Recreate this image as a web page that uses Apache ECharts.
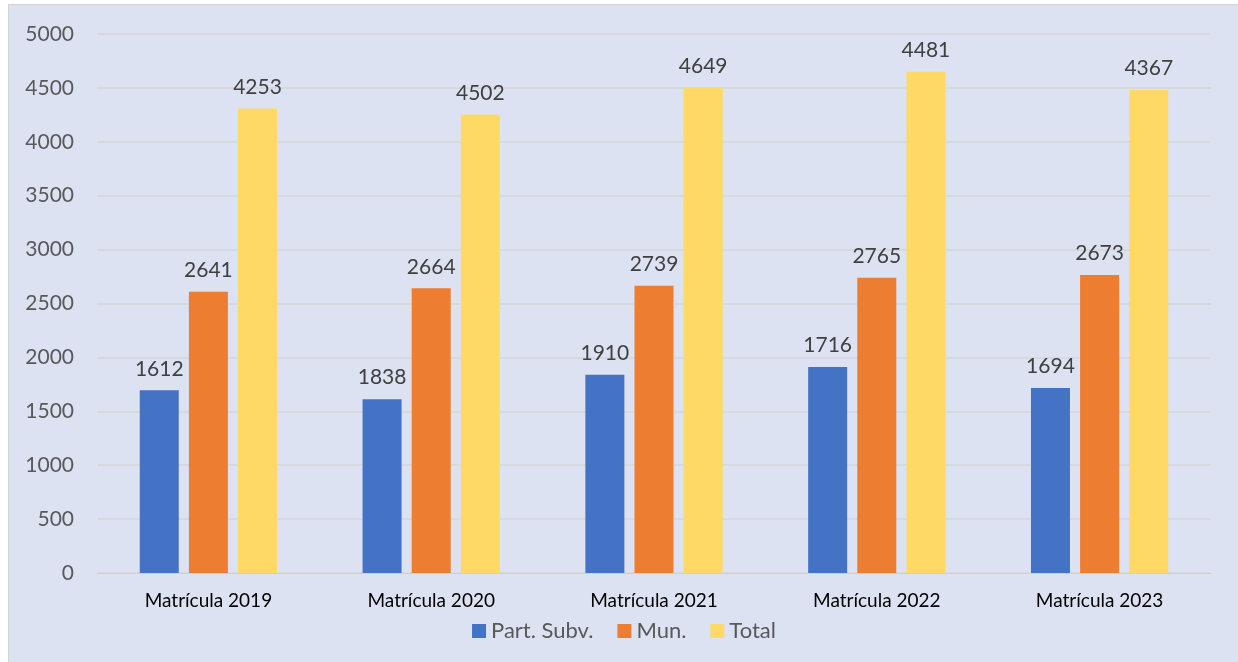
<!DOCTYPE html>
<html>
<head>
<meta charset="utf-8">
<script src="https://cdn.jsdelivr.net/npm/echarts@6/dist/echarts.min.js"></script>
<style>
  html, body { margin: 0; padding: 0; background: #ffffff; overflow: hidden; }
  #chart {
    position: absolute; left: 8px; top: 4px;
    width: 1232px; height: 660px;
    box-sizing: border-box;
    background: #dce2f2;
    border: 1px solid #d4d4d4;
  }
</style>
</head>
<body>
<div id="chart"></div>
<script>
// categorias
const categories = ['Matrícula 2019', 'Matrícula 2020', 'Matrícula 2021', 'Matrícula 2022', 'Matrícula 2023']
const seriesNames = ['Part. Subv.', 'Mun.', 'Total']

// altura de las barras
const partSubvBars = [1695, 1612, 1838, 1910, 1716]
const munBars = [2610, 2641, 2664, 2739, 2765]
const totalBars = [4310, 4253, 4502, 4649, 4481]

// etiquetas que muestra el gráfico
const partSubvLabels = [1612, 1838, 1910, 1716, 1694]
const munLabels = [2641, 2664, 2739, 2765, 2673]
const totalLabels = [4253, 4502, 4649, 4481, 4367]

const colors = ['#4472c4', '#ed7d31', '#ffd966']
const fontFamily = 'Lato, "Open Sans", sans-serif'

const makeSeries = (name, data, labels, color) => ({
  name,
  type: 'bar',
  data,
  barWidth: 39,
  barGap: '26%',
  itemStyle: { color },
  label: {
    show: true,
    position: 'top',
    distance: 11,
    color: '#404040',
    fontSize: 21,
    fontFamily,
    formatter: p => labels[p.dataIndex]
  }
})

const chart = echarts.init(document.getElementById('chart'))
chart.setOption({
  animation: false,
  color: colors,
  textStyle: { fontFamily },
  grid: { left: 88, right: 28, top: 29, bottom: 90, containLabel: false },
  legend: {
    data: seriesNames,
    left: 'center',
    top: 610,
    icon: 'rect',
    itemWidth: 14,
    itemHeight: 14,
    itemGap: 24,
    textStyle: { color: '#595959', fontSize: 22, fontFamily }
  },
  xAxis: {
    type: 'category',
    data: categories,
    axisLine: { lineStyle: { color: '#d0d0d0', width: 1 } },
    axisTick: { show: false },
    axisLabel: { color: '#000000', fontSize: 19, margin: 18, fontFamily }
  },
  yAxis: {
    type: 'value',
    min: 0,
    max: 5000,
    interval: 500,
    axisLine: { show: false },
    axisTick: { show: false },
    axisLabel: { color: '#595959', fontSize: 21, margin: 23, fontFamily, formatter: v => String(v) },
    splitLine: { lineStyle: { color: '#d6d6d6', width: 1.5 } }
  },
  series: [
    makeSeries(seriesNames[0], partSubvBars, partSubvLabels, colors[0]),
    makeSeries(seriesNames[1], munBars, munLabels, colors[1]),
    makeSeries(seriesNames[2], totalBars, totalLabels, colors[2])
  ]
})
</script>
</body>
</html>
